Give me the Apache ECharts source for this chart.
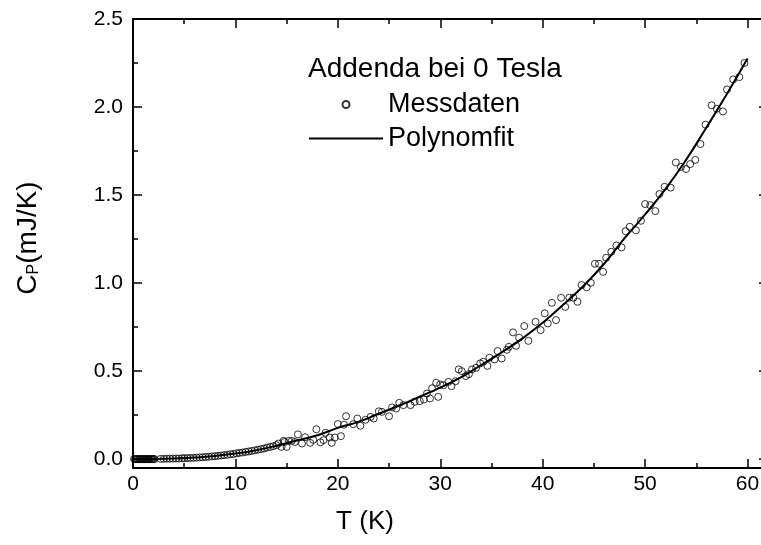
<!DOCTYPE html>
<html><head><meta charset="utf-8">
<script src="https://cdn.jsdelivr.net/npm/echarts@6/dist/echarts.min.js"></script>
<style>html,body{margin:0;padding:0;background:#fff}#c{width:761px;height:545px}</style>
</head><body><div id="c"></div>
<script>
// ---- tick labels ----
const xTicks = [0, 10, 20, 30, 40, 50, 60];
const yTicks = [0, 0.5, 1, 1.5, 2, 2.5];
const yMinorTicks = [0.25, 0.75, 1.25, 1.75, 2.25];

// ---- series names ----
const legendTitle = 'Addenda bei 0 Tesla';
const nameMess = 'Messdaten';
const nameFit = 'Polynomfit';

// ---- measured points [T (K), Cp (mJ/K)] ----
const messdaten = [
 [0.1,0.001],[0.2,0.000],[0.3,0.001],[0.4,0.000],[0.5,0.001],[0.6,0.000],[0.7,0.001],[0.8,0.001],[0.9,0.000],[1.0,0.001],
 [1.1,0.001],[1.2,0.000],[1.3,0.001],[1.4,0.001],[1.5,0.001],[1.6,0.000],[1.7,0.001],[1.8,0.001],[1.9,0.001],[2.0,0.001],
 [2.1,0.001],[2.7,0.002],[3.0,0.002],[3.3,0.003],[3.6,0.003],[3.9,0.003],[4.2,0.004],[4.5,0.004],[4.8,0.005],[5.0,0.006],
 [5.3,0.006],[5.6,0.007],[5.9,0.008],[6.2,0.009],[6.5,0.010],[6.8,0.011],[7.1,0.013],[7.4,0.014],[7.7,0.016],[8.0,0.017],
 [8.3,0.019],[8.6,0.021],[8.9,0.023],[9.2,0.025],[9.5,0.028],[9.8,0.030],[10.1,0.033],[10.4,0.036],[10.7,0.038],[11.0,0.041],
 [11.3,0.044],[11.6,0.047],[11.9,0.050],[12.2,0.054],[12.5,0.057],[12.8,0.061],[13.1,0.066],
 [13.4,0.070],[13.7,0.074],[14.0,0.080],[14.2,0.089],[14.5,0.070],[14.7,0.104],[14.8,0.098],[15.0,0.070],[15.2,0.104],
 [15.5,0.104],[15.8,0.098],[16.1,0.141],[16.5,0.089],[16.8,0.125],[17.3,0.093],[17.6,0.110],[17.9,0.170],[18.3,0.096],
 [18.6,0.108],[18.8,0.150],[19.2,0.123],[19.4,0.093],[19.7,0.123],[20.0,0.200],[20.3,0.131],[20.6,0.196],
 [20.8,0.244],[21.5,0.199],[21.9,0.231],[22.2,0.190],[22.7,0.224],[23.2,0.240],[23.5,0.231],[24.0,0.272],[24.3,0.269],
 [25.0,0.244],[25.3,0.294],[25.7,0.288],[26.0,0.320],[26.4,0.307],[27.1,0.307],[27.5,0.326],[28.0,0.330],[28.4,0.339],
 [28.7,0.373],[29.0,0.345],[29.2,0.403],[29.6,0.434],[29.8,0.354],[30.0,0.424],[30.3,0.420],[30.8,0.439],[31.1,0.415],
 [31.5,0.443],[31.8,0.510],[32.1,0.500],[32.5,0.472],[32.8,0.483],[33.1,0.510],[33.5,0.519],[33.9,0.544],[34.2,0.553],
 [34.6,0.530],[34.8,0.576],[35.3,0.566],[35.6,0.614],[36.0,0.572],[36.5,0.621],[36.7,0.638],[37.1,0.720],[37.4,0.644],
 [37.7,0.690],[38.2,0.756],[38.6,0.672],[39.3,0.780],[39.8,0.733],
 [40.2,0.828],[40.5,0.771],[40.9,0.888],[41.3,0.790],[41.8,0.917],[42.2,0.865],[42.6,0.917],[43.0,0.917],[43.4,0.894],
 [43.8,0.989],[44.3,0.976],[44.7,1.002],[45.1,1.110],[45.5,1.110],[45.9,1.064],[46.2,1.144],[46.7,1.178],[47.2,1.214],
 [47.7,1.203],[48.1,1.295],[48.5,1.320],[49.1,1.300],[49.6,1.354],[50.0,1.449],[50.5,1.443],[51.0,1.409],[51.4,1.506],
 [51.9,1.547],[52.5,1.542],
 [53.0,1.685],[53.5,1.660],[54.0,1.648],[54.4,1.676],[54.9,1.700],[55.4,1.790],[55.9,1.900],[56.5,2.010],[57.0,1.990],
 [57.6,1.975],[58.0,2.100],[58.6,2.157],[59.2,2.170],[59.7,2.250]
];

// ---- polynomial fit ----
const fitT = [0, 2, 4, 6, 8, 10, 12, 14, 16, 18, 20, 22, 24, 26, 28, 30, 32, 34, 36, 38, 40, 42, 44, 46, 48, 50, 52, 54, 56, 58, 60];
const fitC = [0, 0.001, 0.004, 0.009, 0.018, 0.032, 0.051, 0.076, 0.106, 0.136, 0.178, 0.212, 0.258, 0.305, 0.355, 0.407, 0.465, 0.535, 0.607, 0.685, 0.775, 0.877, 0.985, 1.110, 1.255, 1.390, 1.535, 1.700, 1.885, 2.075, 2.275];

const FONT = 'Liberation Sans, Arial, sans-serif';
const chart = echarts.init(document.getElementById('c'), null, {renderer: 'canvas'});

const majorTick = {inside: true, length: 9, lineStyle: {color: '#000', width: 1.5}};
const minorTick = {show: true, splitNumber: 2, length: 5, lineStyle: {color: '#000', width: 1.5}};
const axisLine = {show: true, onZero: false, lineStyle: {color: '#000', width: 2}};

const xBase = {type: 'value', min: 0, max: 62, interval: 10, splitLine: {show: false}, axisLine: axisLine};
const yBase = {type: 'value', min: -0.05, max: 2.5, splitLine: {show: false}};

chart.setOption({
  backgroundColor: '#fff',
  animation: false,
  grid: {left: 133, top: 19, width: 635, height: 449, containLabel: false, outerBoundsMode: 'none'},
  legend: {
    orient: 'vertical', left: 303, top: 86, itemWidth: 74, itemHeight: 7, itemGap: 7,
    textStyle: {fontSize: 27, color: '#000', fontFamily: FONT},
    data: [
      {name: nameMess, icon: 'circle'},
      {name: nameFit, itemStyle: {color: 'rgba(0,0,0,0)', borderWidth: 0, opacity: 0}}
    ]
  },
  xAxis: [
    Object.assign({}, xBase, {position: 'bottom', axisTick: majorTick, minorTick: minorTick,
      axisLabel: {customValues: xTicks, margin: 6, fontSize: 21, color: '#000', fontFamily: FONT}}),
    Object.assign({}, xBase, {position: 'top', axisTick: majorTick, minorTick: minorTick,
      axisLabel: {show: false}})
  ],
  yAxis: [
    Object.assign({}, yBase, {position: 'left', axisLine: axisLine,
      axisTick: Object.assign({customValues: yTicks}, majorTick),
      axisLabel: {customValues: yTicks, margin: 10, fontSize: 21, color: '#000', fontFamily: FONT,
        formatter: v => v.toFixed(1)}}),
    Object.assign({}, yBase, {position: 'left', axisLine: {show: false, onZero: false},
      axisTick: {customValues: yMinorTicks, inside: true, length: 5, lineStyle: {color: '#000', width: 1.5}},
      axisLabel: {show: false}}),
    Object.assign({}, yBase, {position: 'right', axisLine: axisLine,
      axisTick: Object.assign({customValues: yTicks}, majorTick), axisLabel: {show: false}}),
    Object.assign({}, yBase, {position: 'right', axisLine: {show: false, onZero: false},
      axisTick: {customValues: yMinorTicks, inside: true, length: 5, lineStyle: {color: '#000', width: 1.5}},
      axisLabel: {show: false}})
  ],
  series: [
    {
      name: nameMess, type: 'scatter', xAxisIndex: 0, yAxisIndex: 0,
      symbol: 'circle', symbolSize: 7,
      itemStyle: {color: 'rgba(255,255,255,0)', borderColor: '#000', borderWidth: 1},
      data: messdaten, z: 2
    },
    {
      name: nameFit, type: 'line', xAxisIndex: 0, yAxisIndex: 0,
      symbol: 'none', smooth: true,
      lineStyle: {color: '#000', width: 2}, itemStyle: {color: '#000'},
      data: fitT.map((t, i) => [t, fitC[i]]), z: 3
    }
  ],
  graphic: [
    {type: 'text', x: 308, y: 69, style: {text: legendTitle, fontSize: 28, fontFamily: FONT, fill: '#000', verticalAlign: 'middle'}},
    {type: 'text', x: 365, y: 522, style: {text: 'T (K)', fontSize: 26, fontFamily: FONT, fill: '#000', align: 'center', verticalAlign: 'middle'}},
    {type: 'text', x: 28, y: 238, rotation: Math.PI / 2,
      style: {text: '{a|C}{b|P}{a|(mJ/K)}', align: 'center', verticalAlign: 'middle', fill: '#000',
        rich: {a: {fontSize: 28, fontFamily: FONT, fill: '#000'}, b: {fontSize: 16, fontFamily: FONT, fill: '#000', verticalAlign: 'bottom'}}}}
  ]
});
</script></body></html>
